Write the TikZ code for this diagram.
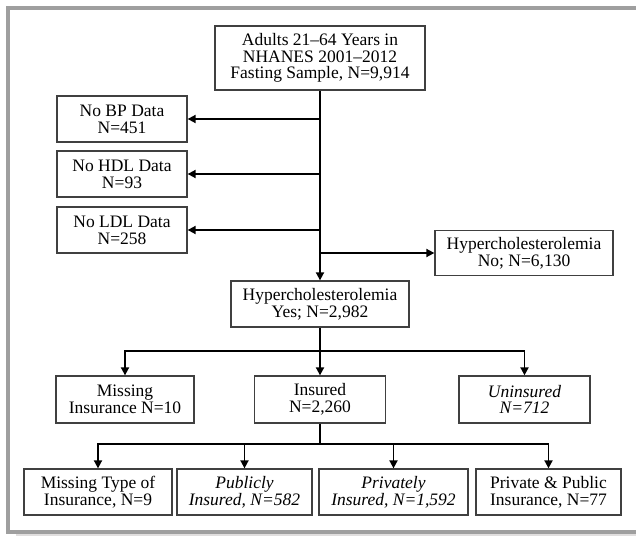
\documentclass[tikz,border=0pt]{standalone}
\usepackage{fontspec}
\setmainfont{Liberation Serif}
\usetikzlibrary{arrows.meta, positioning}

\begin{document}
\begin{tikzpicture}[
        x = 1pt, y = -1pt,
        >= {Triangle[length = 8pt, width = 8pt]},
        every node/.style = {font = \fontsize{17.5}{16.8}\selectfont, align = center, inner sep = 0pt, text = black},
        box/.style = {draw = black!75, line width = 1.3pt, fill = white, minimum height = 46pt},
        ital/.style = {font = \fontsize{17.5}{16.8}\selectfont\itshape},
        link/.style = {black, line width = 1.8pt}
    ]
    \useasboundingbox (0,0) rectangle (636,537);
    % frame
    \draw[draw = black!10!red!5!gray!25, line width = 2pt] (16,535) -- (636,535);
    \draw[gray!75, line width = 4pt] (636,8) -- (8,8) -- (8,532) -- (636,532);

      \node[box, minimum width = 210pt, minimum height = 64pt] (sample) at (320,58) {Adults 21--64 Years in\\NHANES 2001--2012\\Fasting Sample, N=9,914};
      \node[box, minimum width = 130pt] (nobp) at (122,119) {No BP Data\\N=451};
      \node[box, minimum width = 130pt] (nohdl) at (122,174) {No HDL Data\\N=93};
      \node[box, minimum width = 130pt] (noldl) at (122,230) {No LDL Data\\N=258};
      \node[box, minimum width = 178pt, minimum height = 45pt] (hypno) at (524,253) {Hypercholesterolemia\\No; N=6,130};
      \node[box, minimum width = 178pt] (hypyes) at (320,304) {Hypercholesterolemia\\Yes; N=2,982};

      \node[box, minimum width = 138pt, minimum height = 47pt] (missins) at (125,399.5) {Missing\\Insurance N=10};
      \node[box, minimum width = 131pt, minimum height = 47pt] (insured) at (320,399.5) {Insured\\N=2,260};
      \node[box, ital, minimum width = 131pt, minimum height = 47pt] (uninsured) at (524.5,399.5) {Uninsured\\N=712};

      \node[box, minimum width = 148pt] (misstype) at (98,492) {Missing Type of\\Insurance, N=9};
      \node[box, ital, minimum width = 135pt] (public) at (244.5,492) {Publicly\\Insured, N=582};
      \node[box, ital, minimum width = 149pt] (private) at (393.5,492) {Privately\\Insured, N=1,592};
      \node[box, minimum width = 145pt] (both) at (548.5,492) {Private \& Public\\Insurance, N=77};

      \coordinate (split1) at (320,351);
      \coordinate (split2) at (320,444);

      \draw[link, ->] (sample) -- (hypyes);
      \draw[link, ->] (sample.south |- nobp) -- (nobp);
      \draw[link, ->] (sample.south |- nohdl) -- (nohdl);
      \draw[link, ->] (sample.south |- noldl) -- (noldl);
      \draw[link, ->] (sample.south |- hypno.west) -- (hypno);

      \draw[link, ->] (hypyes) -- (insured);
      \draw[link, ->] (split1) -| (missins);
      \draw[link, ->] (split1) -| (uninsured);

      \draw[link] (insured) -- (split2);
      \draw[link, ->] (split2) -| (misstype);
      \draw[link, ->] (split2) -| (public);
      \draw[link, ->] (split2) -| (private);
      \draw[link, ->] (split2) -| (both);
    \end{tikzpicture}
\end{document}
